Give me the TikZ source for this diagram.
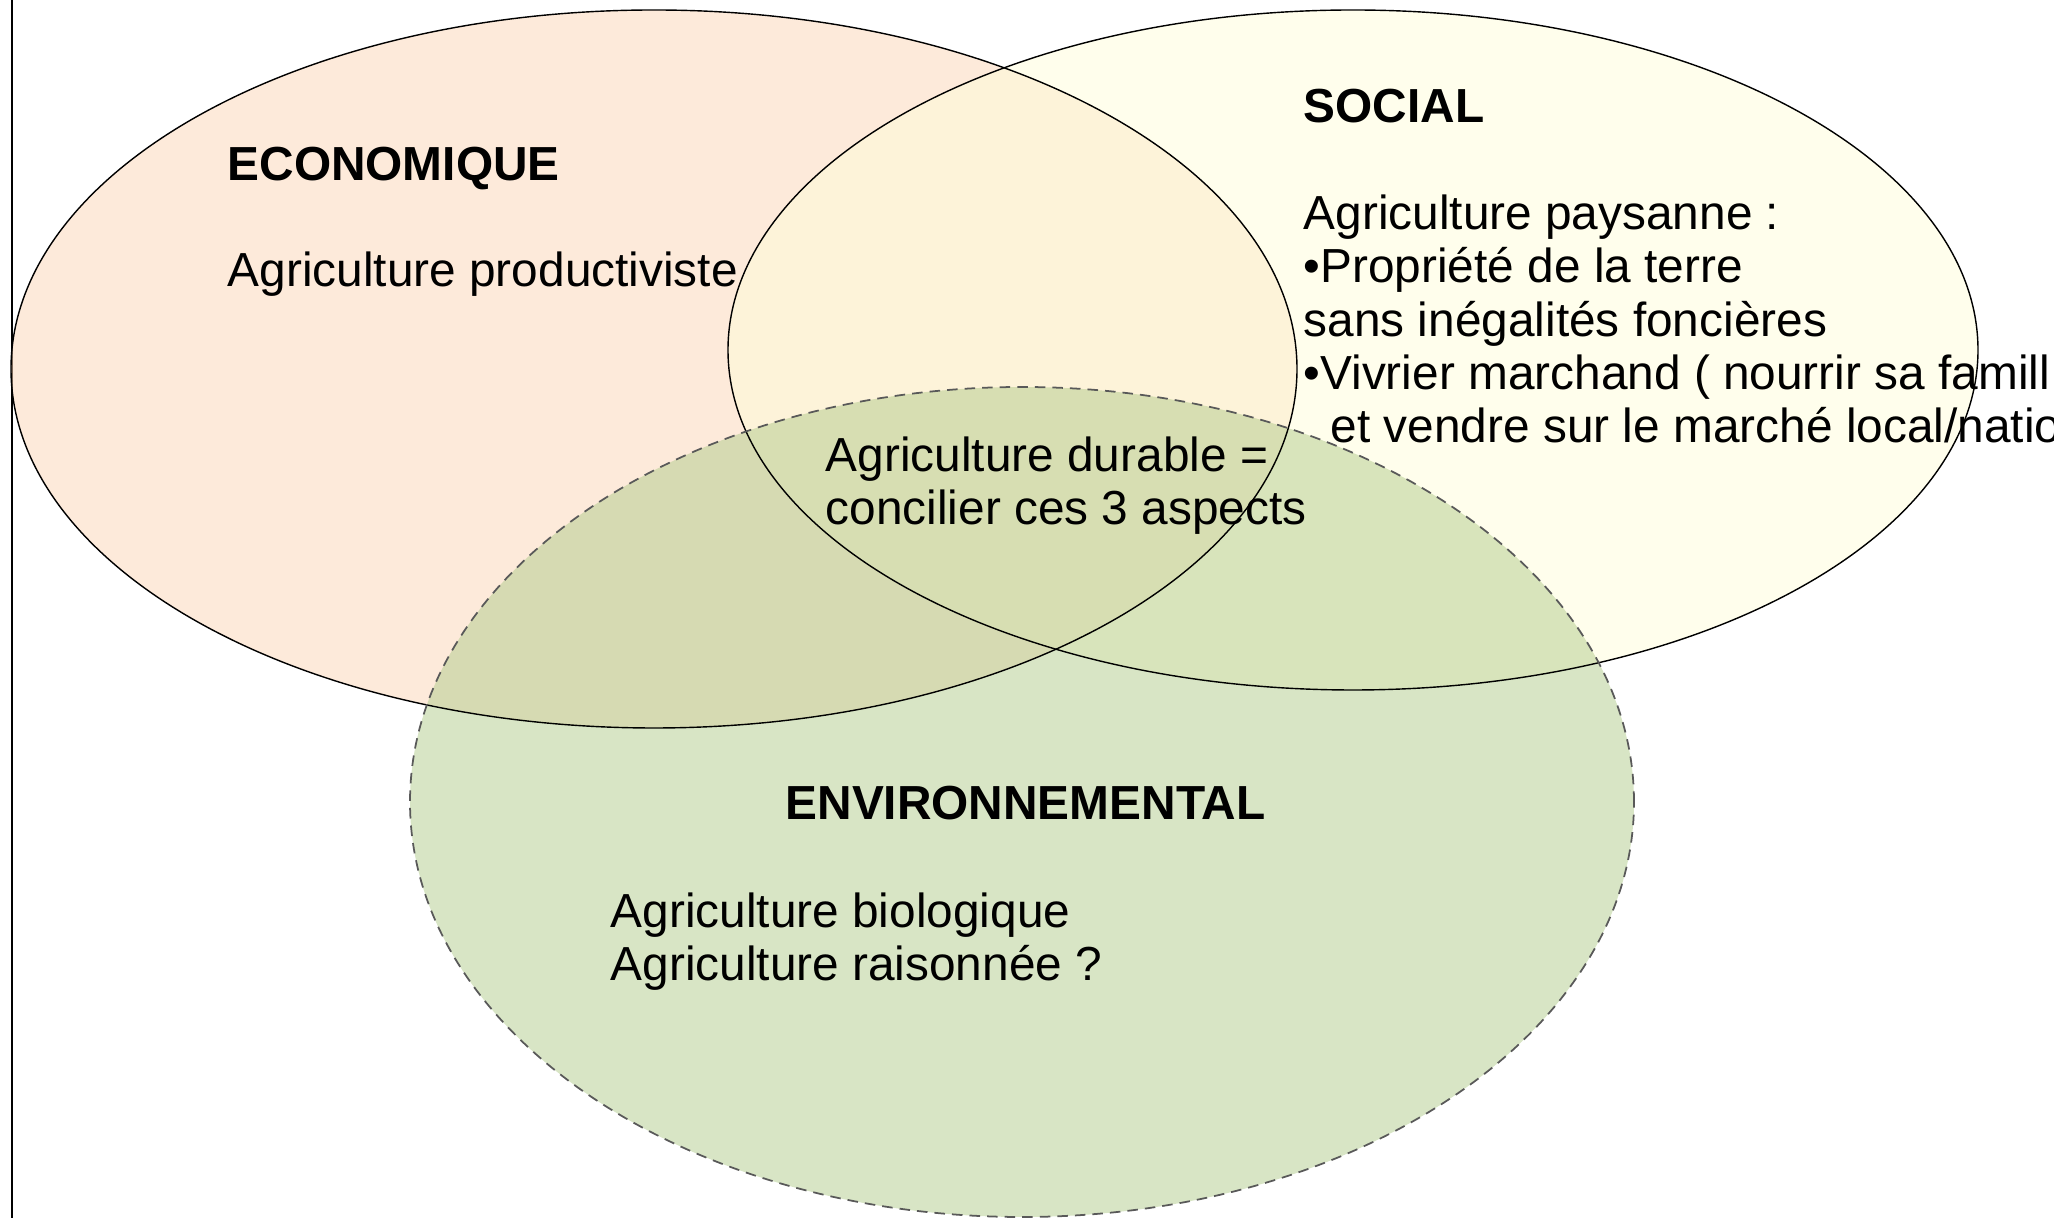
\documentclass[tikz,border=0pt]{standalone}
\usepackage{fontspec}
\setmainfont{Liberation Sans}
\usepackage{xcolor}
\usepackage{tikz}

\definecolor{ecoFill}{RGB}{251,213,181}
\definecolor{socFill}{RGB}{255,253,217}
\definecolor{envFill}{RGB}{177,203,139}

\begin{document}
\begin{tikzpicture}[
  txt/.style={anchor=base west, inner sep=0pt, align=left,
    font=\fontsize{13.6}{15.2}\selectfont},
  head/.style={txt, font=\fontsize{13.6}{15.2}\selectfont\bfseries}]
\useasboundingbox (0,0) rectangle (20.54,12.18);
\clip (0,0) rectangle (20.54,12.18);

% Margin line
\draw[line width=0.4pt] (0.12,0) -- (0.12,12.18);

% Fills (see-through)
\fill[ecoFill, fill opacity=0.5] (6.54,8.49) ellipse (6.43 and 3.59);
\fill[socFill, fill opacity=0.5] (13.53,8.68) ellipse (6.25 and 3.40);
\fill[envFill, fill opacity=0.5] (10.22,4.16) ellipse (6.12 and 4.15);

% Outlines
\draw[line width=0.4pt] (6.54,8.49) ellipse (6.43 and 3.59);
\draw[line width=0.4pt] (13.53,8.68) ellipse (6.25 and 3.40);
\draw[black!65, line width=0.5pt, densely dashed] (10.22,4.16) ellipse (6.12 and 4.15);

% Economique
\node[head] (eco) at (2.27,10.37) {ECONOMIQUE};
\node[txt] (ecoTxt) at (2.27,9.31) {Agriculture productiviste};

% Social (base = last line)
\node[head] (soc) at (13.03,10.95) {SOCIAL};
\node[txt] (socTxt) at (13.03,7.75) {Agriculture paysanne :\\
  •Propriété de la terre\\
  sans inégalités foncières\\
  •Vivrier marchand ( nourrir sa famill\\
  \hspace*{2.7mm}et vendre sur le marché local/natio};

% Centre
\node[txt] (durable) at (8.25,6.93) {Agriculture durable =\\concilier ces 3 aspects};

% Environnemental
\node[head] (env) at (7.85,3.98) {ENVIRONNEMENTAL};
\node[txt] (envTxt) at (6.10,2.37) {Agriculture biologique\\Agriculture raisonnée ?};
\end{tikzpicture}
\end{document}
